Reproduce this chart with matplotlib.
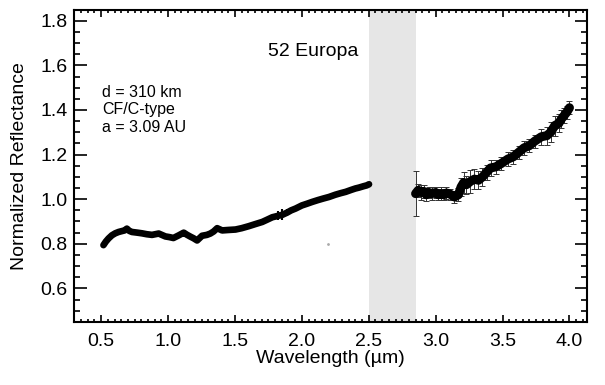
import matplotlib
matplotlib.use("Agg")
import matplotlib.pyplot as plt
from matplotlib.ticker import MultipleLocator

plt.rcParams['font.family'] = ['Liberation Sans', 'DejaVu Sans']

# short-wavelength spectrum (um, normalized reflectance)
wl_short = [0.517, 0.535, 0.555, 0.58, 0.605, 0.63, 0.655, 0.675, 0.692, 0.71,
            0.73, 0.77, 0.805, 0.84, 0.88, 0.93, 0.98, 1.01, 1.04, 1.08,
            1.117, 1.14, 1.167, 1.19, 1.217, 1.254, 1.29, 1.316, 1.34, 1.367,
            1.404, 1.45, 1.504, 1.55, 1.603, 1.65, 1.704, 1.74, 1.779, 1.82,
            1.854, 1.89, 1.92, 1.953, 2.0, 2.04, 2.078, 2.12, 2.16, 2.203,
            2.25, 2.29, 2.328, 2.37, 2.4, 2.427, 2.46, 2.485, 2.502]
refl_short = [0.794, 0.81, 0.824, 0.838, 0.847, 0.853, 0.857, 0.86, 0.868, 0.858,
              0.853, 0.85, 0.847, 0.843, 0.84, 0.846, 0.833, 0.83, 0.826, 0.838,
              0.85, 0.841, 0.832, 0.825, 0.815, 0.836, 0.84, 0.846, 0.855, 0.87,
              0.86, 0.862, 0.864, 0.87, 0.879, 0.888, 0.898, 0.908, 0.919, 0.925,
              0.93, 0.94, 0.95, 0.958, 0.972, 0.98, 0.988, 0.996, 1.003, 1.01,
              1.02, 1.027, 1.033, 1.042, 1.048, 1.052, 1.058, 1.062, 1.067]
err_short = [0.008, 0.005, 0.005, 0.005, 0.005, 0.005, 0.005, 0.005, 0.006, 0.005,
             0.005, 0.005, 0.005, 0.005, 0.005, 0.005, 0.005, 0.005, 0.005, 0.005,
             0.006, 0.005, 0.005, 0.005, 0.008, 0.005, 0.005, 0.005, 0.005, 0.006,
             0.005, 0.005, 0.005, 0.005, 0.005, 0.005, 0.005, 0.006, 0.01, 0.02,
             0.025, 0.015, 0.008, 0.005, 0.005, 0.005, 0.005, 0.005, 0.005, 0.005,
             0.005, 0.005, 0.005, 0.005, 0.005, 0.005, 0.006, 0.008, 0.01]

# long-wavelength spectrum
wl_long = [2.85, 2.87, 2.89, 2.91, 2.93, 2.95, 2.97, 3.0, 3.02, 3.04,
           3.06, 3.08, 3.11, 3.14, 3.17, 3.19, 3.21, 3.23, 3.26, 3.29,
           3.32, 3.35, 3.38, 3.41, 3.45, 3.49, 3.54, 3.58, 3.62, 3.66,
           3.7, 3.74, 3.79, 3.83, 3.86, 3.89, 3.92, 3.94, 3.96, 3.98, 4.0]
refl_long = [1.025, 1.04, 1.03, 1.035, 1.02, 1.03, 1.025, 1.03, 1.02, 1.025,
             1.02, 1.028, 1.022, 1.01, 1.02, 1.055, 1.075, 1.065, 1.08, 1.09,
             1.085, 1.1, 1.12, 1.14, 1.145, 1.16, 1.18, 1.19, 1.21, 1.23,
             1.24, 1.26, 1.28, 1.285, 1.3, 1.33, 1.34, 1.36, 1.375, 1.39, 1.41]
err_long = [0.1, 0.03, 0.035, 0.03, 0.03, 0.025, 0.03, 0.025, 0.025, 0.03,
            0.025, 0.025, 0.025, 0.025, 0.03, 0.04, 0.045, 0.04, 0.05, 0.045,
            0.04, 0.04, 0.035, 0.035, 0.03, 0.03, 0.03, 0.03, 0.03, 0.03,
            0.03, 0.03, 0.035, 0.04, 0.045, 0.045, 0.04, 0.04, 0.035, 0.03, 0.03]

# stray point
wl_dot = [2.195]
refl_dot = [0.80]

gap = (2.5, 2.85)

fig = plt.figure(figsize=(6.05, 3.85), dpi=100)
ax = fig.add_axes([0.123, 0.164, 0.847, 0.811])

ax.axvspan(gap[0], gap[1], color='#e6e6e6', lw=0, zorder=0)

ax.errorbar(wl_short, refl_short, yerr=err_short, fmt='none', ecolor='black',
            elinewidth=1.5, zorder=2)
ax.plot(wl_short, refl_short, color='black', lw=4.8, solid_capstyle='round',
        solid_joinstyle='round', zorder=3)

ax.errorbar(wl_long, refl_long, yerr=err_long, fmt='none', ecolor='#333333',
            elinewidth=0.7, capsize=2.5, capthick=0.7, zorder=2)
ax.plot(wl_long, refl_long, color='black', lw=6.5, solid_capstyle='round',
        solid_joinstyle='round', zorder=3)
ax.plot(wl_long, refl_long, 's', color='black', ms=3.5, zorder=3)

ax.plot(wl_dot, refl_dot, '.', color='#aaaaaa', ms=2)

ax.set_xlim(0.3, 4.13)
ax.set_ylim(0.45, 1.85)
ax.xaxis.set_major_locator(MultipleLocator(0.5))
ax.xaxis.set_minor_locator(MultipleLocator(0.05))
ax.yaxis.set_major_locator(MultipleLocator(0.2))
ax.yaxis.set_minor_locator(MultipleLocator(0.05))
ax.xaxis.set_major_formatter(plt.FormatStrFormatter('%.1f'))
ax.yaxis.set_major_formatter(plt.FormatStrFormatter('%.1f'))

ax.tick_params(axis='both', which='both', direction='in', top=True, right=True,
               labelsize=14, width=1.2)
ax.tick_params(axis='x', which='major', length=5, pad=8)
ax.tick_params(axis='x', which='minor', length=2.5)
ax.tick_params(axis='y', which='major', length=9, pad=5)
ax.tick_params(axis='y', which='minor', length=4.5)
for s in ax.spines.values():
    s.set_linewidth(1.5)

ax.set_xlabel('Wavelength (\u00b5m)', fontsize=14, labelpad=0)
ax.set_ylabel('Normalized Reflectance', fontsize=14, labelpad=9)

ax.text(2.42, 1.66, '52 Europa', fontsize=14, ha='right', va='center')
ax.text(0.505, 1.40, 'd = 310 km\nCF/C-type\na = 3.09 AU', fontsize=11.5,
        ha='left', va='center')

fig.savefig('out.png', dpi=100)
